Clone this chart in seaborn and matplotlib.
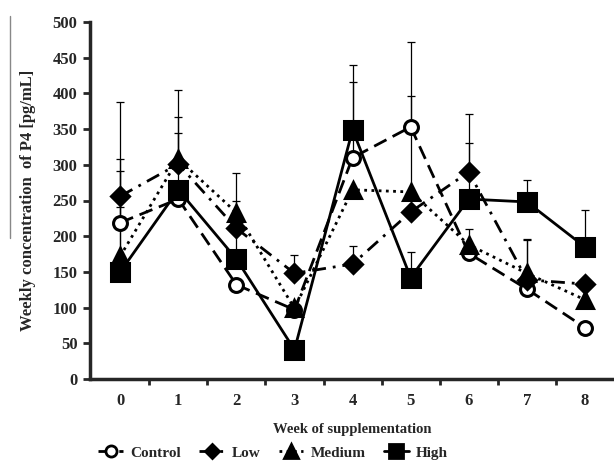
import numpy as np
import pandas as pd
import seaborn as sns
import matplotlib.pyplot as plt
from matplotlib.lines import Line2D

# weeks of supplementation
weeks = [0, 1, 2, 3, 4, 5, 6, 7, 8]

# mean weekly P4 (pg/mL) per group
control = [219, 252, 132, 97, 310, 353, 176, 126, 72]
low = [256, 301, 211, 148, 161, 234, 290, 139, 133]
medium = [172, 308, 233, 99, 265, 262, 188, 148, 111]
high = [150, 265, 168, 41, 349, 142, 252, 248, 185]

# upper error (top of the bar, pg/mL); nan = not drawn
control_top = [308, np.nan, np.nan, np.nan, 416, 472, np.nan, np.nan, np.nan]
low_top = [388, 367, np.nan, 173, 186, np.nan, 371, 194, np.nan]
medium_top = [292, 405, 288, np.nan, np.nan, 397, 210, 196, np.nan]
high_top = [241, 345, 249, np.nan, 440, 178, 331, 279, 237]

groups = ["Control", "Low", "Medium", "High"]

df = pd.DataFrame({
    "week": weeks * 4,
    "conc": control + low + medium + high,
    "top": control_top + low_top + medium_top + high_top,
    "group": sum([[g] * len(weeks) for g in groups], []),
})

sns.set_style("ticks")
plt.rcParams["font.family"] = ["Liberation Serif", "DejaVu Serif"]
plt.rcParams["font.weight"] = "bold"

fig = plt.figure(figsize=(6.14, 4.62), dpi=100)
ax = fig.add_axes([90 / 614, 83 / 462, 524 / 614, 357 / 462])

# error bars first (upper only)
for g in groups:
    d = df[df.group == g].dropna(subset=["top"])
    ax.errorbar(d.week, d.conc, yerr=[np.zeros(len(d)), d["top"] - d["conc"]],
                fmt="none", ecolor="black", elinewidth=0.9, capsize=3, capthick=0.9, zorder=1)

markers = {"Control": "o", "Low": "D", "Medium": "^", "High": "s"}
dashes = {"Control": (5, 2.5), "Low": (5, 2.5, 1, 2.5), "Medium": (1, 1.6), "High": ""}
sizes = {"Control": 10, "Low": 9.5, "Medium": 11.5, "High": 12.5}

for g in groups:
    d = df[df.group == g]
    sns.lineplot(data=d, x="week", y="conc", color="black", lw=2,
                 dashes=dashes[g] if dashes[g] else (None, None), ax=ax, zorder=3)
    ax.plot(d.week, d.conc, ls="none", marker=markers[g], ms=sizes[g],
            mfc="white" if g == "Control" else "black", mec="black", mew=2.2, zorder=4)

ax.set_xlim(-0.52, 8.5)
ax.set_ylim(0, 500)
ax.set_yticks(range(0, 501, 50))
ax.set_xticks(weeks)
ax.set_xticks(np.arange(0.5, 8.5, 1), minor=True)
ax.tick_params(axis="x", which="major", length=0, pad=10, labelsize=12)
ax.tick_params(axis="x", which="minor", length=4, width=2, direction="out")
ax.tick_params(axis="y", length=5, width=2, labelsize=12, pad=4)
for lab in ax.get_xticklabels() + ax.get_yticklabels():
    lab.set_fontweight("bold")

sns.despine(ax=ax)
ax.spines["left"].set_linewidth(2.5)
ax.spines["bottom"].set_linewidth(2.5)

ax.set_xlabel("Week of supplementation", fontsize=10.5, fontweight="bold", labelpad=10)
ax.set_ylabel("Weekly concentration  of P4 [pg/mL]", fontsize=12, fontweight="bold", labelpad=12)

handles = []
for g in groups:
    handles.append(Line2D([], [], color="black", lw=2,
                          ls=(0, dashes[g]) if dashes[g] else "-",
                          marker=markers[g], ms=sizes[g] - 2,
                          mfc="white" if g == "Control" else "black", mec="black", mew=2))
fig.legend(handles, groups, loc="center", bbox_to_anchor=(0.445, 0.02), ncol=4,
           frameon=False, handlelength=1.6, columnspacing=1.2, handletextpad=0.5,
           prop={"weight": "bold", "size": 11})

# thin grey rule at the far left of the scan
fig.add_artist(Line2D([10 / 614, 10 / 614], [1 - 16 / 462, 1 - 238 / 462],
                      color="#888888", lw=1))

fig.savefig("out.png", dpi=100)
